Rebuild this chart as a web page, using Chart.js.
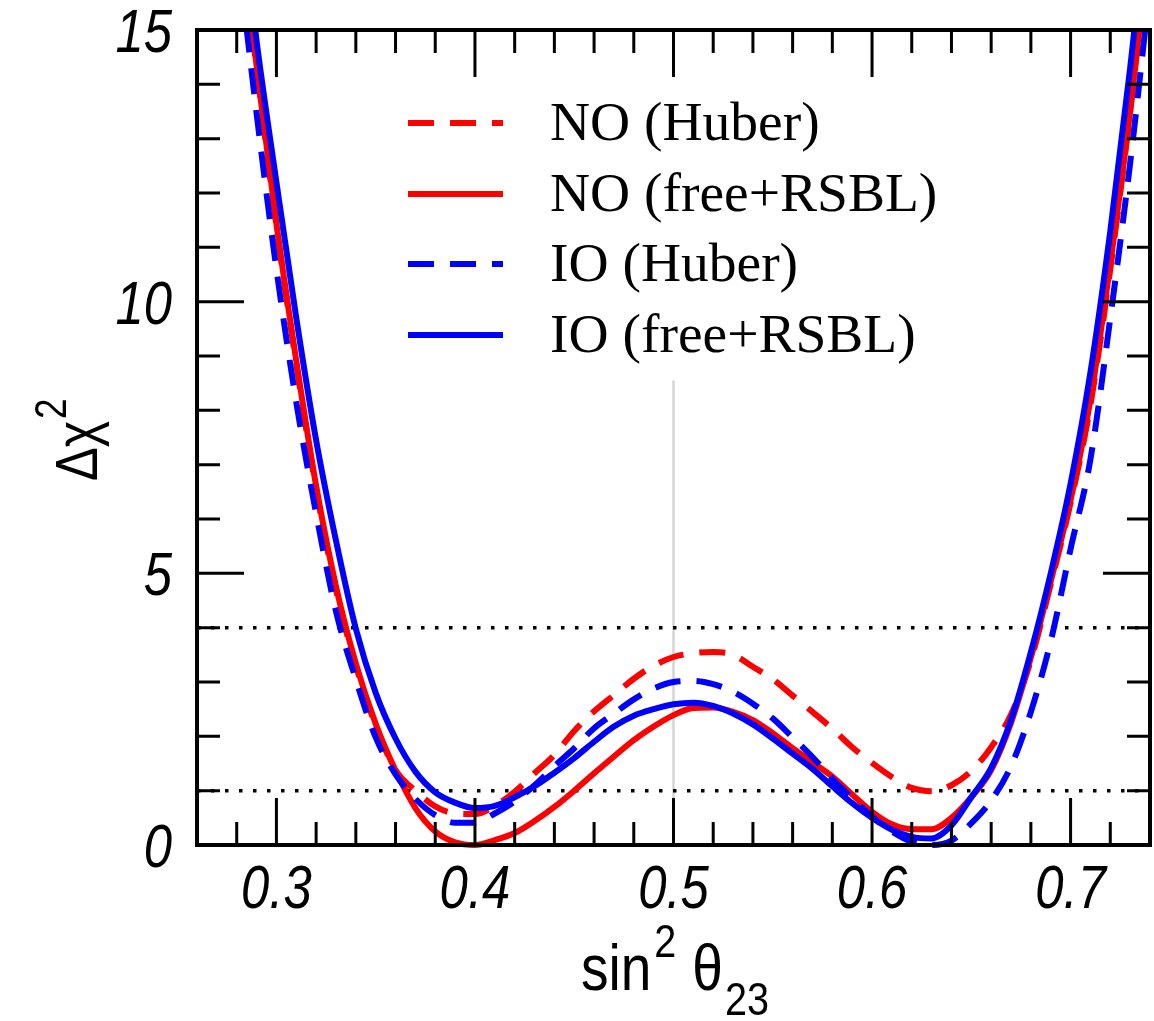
<!DOCTYPE html>
<html><head><meta charset="utf-8">
<script src="https://cdn.jsdelivr.net/npm/chart.js@4.4.0/dist/chart.umd.min.js"></script>
<style>html,body{margin:0;padding:0;background:#fff;}</style>
</head><body>
<canvas id="c" width="1154" height="1021"></canvas>
<script>
// ---------------- data ----------------
const xs = [0.28,0.29,0.30,0.31,0.32,0.33,0.34,0.35,0.36,0.37,0.38,0.39,0.40,0.41,0.42,0.43,0.44,0.45,0.46,0.47,0.48,0.49,0.50,0.51,0.52,0.53,0.54,0.55,0.56,0.57,0.58,0.59,0.60,0.61,0.62,0.63,0.64,0.65,0.66,0.67,0.68,0.69,0.70,0.71,0.72,0.73,0.74];
const noHuber = [17.3,14.3,11.4,8.85,6.55,4.7,3.3,2.2,1.38,1.0,0.71,0.58,0.57,0.72,0.98,1.32,1.66,2.1,2.46,2.76,3.06,3.3,3.46,3.53,3.55,3.5,3.28,3.05,2.75,2.45,2.14,1.8,1.51,1.25,1.05,0.99,1.1,1.36,1.8,2.4,3.4,4.8,6.3,8.1,10.6,13.5,16.8];
const noFree = [17.4,14.35,11.43,8.91,6.61,4.76,3.34,2.23,1.37,0.68,0.25,0.05,0.0,0.09,0.22,0.44,0.70,1.00,1.32,1.63,1.93,2.18,2.39,2.52,2.53,2.45,2.30,2.06,1.78,1.52,1.26,0.93,0.61,0.38,0.29,0.29,0.50,0.88,1.38,2.25,3.45,4.85,6.35,8.2,10.7,13.5,16.8];
const ioHuber = [16.6,13.47,10.6,8.15,6.1,4.3,3.05,1.98,1.3,0.85,0.55,0.41,0.41,0.58,0.80,1.1,1.45,1.78,2.15,2.42,2.68,2.88,3.0,3.02,2.96,2.82,2.6,2.33,1.98,1.62,1.22,0.86,0.52,0.25,0.06,0.0,0.08,0.4,0.82,1.45,2.45,3.75,5.45,7.1,9.7,12.55,15.8];
const ioFree = [17.9,14.8,12.2,9.7,7.45,5.6,3.98,2.8,1.96,1.35,0.97,0.78,0.68,0.72,0.88,1.08,1.33,1.6,1.9,2.18,2.38,2.5,2.59,2.62,2.56,2.42,2.22,1.96,1.68,1.4,1.08,0.77,0.5,0.28,0.15,0.12,0.36,0.88,1.42,2.3,3.55,5.0,6.65,8.7,11.3,14.3,17.6];
const seriesNames = ['NO (Huber)','NO (free+RSBL)','IO (Huber)','IO (free+RSBL)'];
const xTickLabels = [0.3,0.4,0.5,0.6,0.7];
const xMinorTicks = [0.28,0.32,0.34,0.36,0.38,0.42,0.44,0.46,0.48,0.52,0.54,0.56,0.58,0.62,0.64,0.66,0.68,0.72];
const yTickLabels = [0,5,10,15];
const yMinorTicks = [1,2,3,4,6,7,8,9,11,12,13,14];
const refLevels = [1,4];
const vLineX = 0.5;
const vLineTop = 8.55;

// ---------------- styles ----------------
const fSans = "'Liberation Sans Narrow','Liberation Sans',Arial,sans-serif";
const fSerif = "'Liberation Serif','Times New Roman',serif";
const RED = '#ff0000', BLUE = '#0000ff';
const DASH = [26,16];
const mk = ys => xs.map((x,i)=>({x:x, y:ys[i]}));
const hline = v => [{x:0.26,y:v},{x:0.74,y:v}];

const curveBase = {borderWidth:6, pointRadius:0, fill:false, cubicInterpolationMode:'monotone', borderCapStyle:'butt', borderJoinStyle:'round', clip:{left:0,top:0,right:0,bottom:6}};

const datasets = [
  Object.assign({label:seriesNames[3], data:mk(ioFree), borderColor:BLUE, order:0}, curveBase),
  Object.assign({label:seriesNames[2], data:mk(ioHuber), borderColor:BLUE, borderDash:DASH, order:1}, curveBase),
  Object.assign({label:seriesNames[1], data:mk(noFree), borderColor:RED, order:2}, curveBase),
  Object.assign({label:seriesNames[0], data:mk(noHuber), borderColor:RED, borderDash:DASH, order:3}, curveBase),
];
refLevels.forEach((v,i)=>datasets.push({label:'ref'+v, data:hline(v), borderColor:'#000', borderWidth:3.5, borderDash:[3.5,10.5], pointRadius:0, order:4+i, clip:0}));
datasets.push({label:'vline', data:[{x:vLineX,y:0},{x:vLineX,y:vLineTop}], borderColor:'#d4d4d4', borderWidth:2.5, pointRadius:0, order:10, clip:0});

// condensed text helper (real text, horizontally squeezed)
function sqText(c, t, x, y, font, align, sx){
  c.save();
  c.font = font;
  c.textAlign = align; c.textBaseline = 'alphabetic';
  c.translate(x, y); c.scale(sx, 1);
  c.fillText(t, 0, 0);
  c.restore();
}

const framePlugin = {
  id:'frame',
  afterDatasetsDraw(chart){
    const c = chart.ctx, a = chart.chartArea, sx = chart.scales.x, sy = chart.scales.y;
    c.save();
    c.strokeStyle = '#000'; c.lineCap='butt';
    c.lineWidth = 3;
    const vt = (v,len)=>{const p=sx.getPixelForValue(v); c.beginPath(); c.moveTo(p,a.bottom); c.lineTo(p,a.bottom-len); c.moveTo(p,a.top); c.lineTo(p,a.top+len); c.stroke();};
    const ht = (v,len)=>{const p=sy.getPixelForValue(v); c.beginPath(); c.moveTo(a.left,p); c.lineTo(a.left+len,p); c.moveTo(a.right,p); c.lineTo(a.right-len,p); c.stroke();};
    xMinorTicks.forEach(v=>vt(v,23));
    xTickLabels.forEach(v=>vt(v,47));
    yMinorTicks.forEach(v=>ht(v,23));
    yTickLabels.forEach(v=>ht(v,47));
    c.lineWidth = 4;
    c.strokeRect(a.left, a.top, a.right-a.left, a.bottom-a.top);
    c.restore();
  }
};

const textPlugin = {
  id:'texts',
  afterDraw(chart){
    const c = chart.ctx, a = chart.chartArea, sxs = chart.scales.x, sys = chart.scales.y;
    c.save();
    c.fillStyle = '#000';
    const tickFont = 'italic 62px '+fSans;
    // tick labels
    xTickLabels.forEach(v=>sqText(c, v.toFixed(1), sxs.getPixelForValue(v), 908, tickFont, 'center', 0.82));
    yTickLabels.forEach(v=>sqText(c, String(v), a.left-25, sys.getPixelForValue(v)+22, tickFont, 'right', 0.82));

    // x title: sin^2 theta_23
    const SX = 0.86;
    const big = '64px '+fSans, small = '46px '+fSans;
    const parts = [
      {t:'sin', f:big, dy:0, gap:3},
      {t:'2', f:small, dy:-33, gap:16},
      {t:'\u03B8', f:big, dy:0, gap:2},
      {t:'23', f:small, dy:25, gap:0}
    ];
    let total = 0;
    parts.forEach(p=>{c.font=p.f; p.w=c.measureText(p.t).width*SX; total += p.w + p.gap;});
    let x = 675 - total/2; const base = 990;
    parts.forEach(p=>{sqText(c, p.t, x, base+p.dy, p.f, 'left', SX); x += p.w + p.gap;});

    // y title: Delta chi^2 (rotated)
    c.save();
    c.translate(97, 481);
    c.rotate(-Math.PI/2);
    const t1 = '\u0394\u03C7';
    const yf = '60px '+fSans;
    c.font = yf;
    const w1 = c.measureText(t1).width*0.84;
    sqText(c, t1, 0, 0, yf, 'left', 0.84);
    sqText(c, '2', w1+2, -31, '44px '+fSans, 'left', 0.84);
    c.restore();

    // legend
    const rows = [123,194,264,335];
    seriesNames.forEach((name,i)=>{
      const ds = chart.data.datasets.find(d=>d.label===name);
      const y = rows[i];
      c.strokeStyle = ds.borderColor; c.lineWidth = 6; c.lineCap='butt';
      c.setLineDash(ds.borderDash || []);
      c.beginPath(); c.moveTo(408,y); c.lineTo(503,y); c.stroke();
      c.setLineDash([]);
      c.fillStyle = '#000';
      c.font = '55.5px '+fSerif;
      c.textAlign = 'left'; c.textBaseline = 'middle';
      c.fillText(name, 550, y+2);
    });
    c.restore();
  }
};

new Chart(document.getElementById('c'), {
  type:'line',
  data:{datasets:datasets},
  options:{
    responsive:false, animation:false, events:[], devicePixelRatio:1,
    layout:{padding:{top:30,right:4,left:0,bottom:0}},
    plugins:{legend:{display:false}, tooltip:{enabled:false}, title:{display:false}},
    scales:{
      x:{type:'linear', min:0.26, max:0.74,
        grid:{display:false, drawTicks:false}, border:{display:false},
        afterBuildTicks:s=>{s.ticks = xTickLabels.map(v=>({value:v}));},
        ticks:{display:false},
        afterFit:s=>{s.height=176; s.paddingLeft=0; s.paddingRight=0;}
      },
      y:{type:'linear', min:0, max:15,
        grid:{display:false, drawTicks:false}, border:{display:false},
        afterBuildTicks:s=>{s.ticks = yTickLabels.map(v=>({value:v}));},
        ticks:{display:false},
        afterFit:s=>{s.width=197; s.paddingTop=0; s.paddingBottom=0;}
      }
    }
  },
  plugins:[framePlugin, textPlugin]
});
</script>
</body></html>
